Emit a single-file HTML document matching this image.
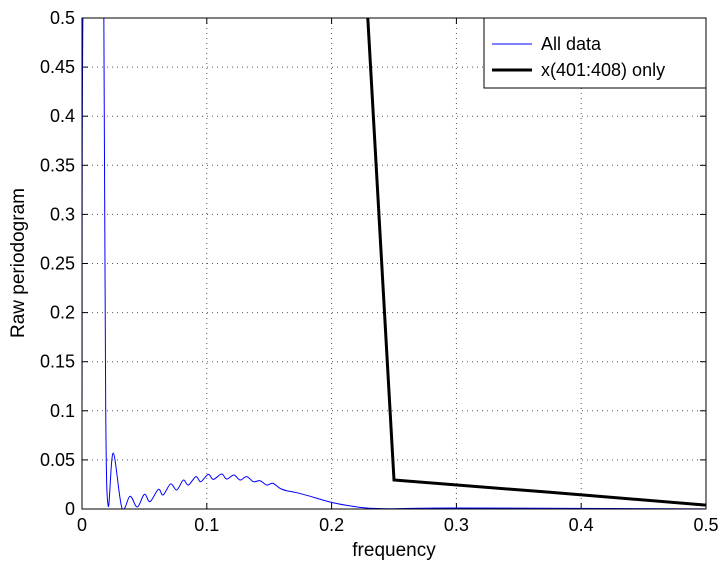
<!DOCTYPE html>
<html><head><meta charset="utf-8"><style>
body{margin:0;background:#fff;}
svg{display:block;font-family:"Liberation Sans",Arial,sans-serif;}
</style></head><body>
<svg id="chart" width="724" height="565"></svg>
<script>
const xTicks=[0,0.1,0.2,0.3,0.4,0.5];
const yTicks=[0,0.05,0.1,0.15,0.2,0.25,0.3,0.35,0.4,0.45,0.5];
const allFreq=[0,0.002,0.016,0.0175,0.019,0.021,0.025,0.032,0.0385,0.0443,0.050,0.0545,0.0612,0.065,0.071,0.0759,0.0812,0.0852,0.0913,0.0951,0.1012,0.1052,0.1119,0.1159,0.1218,0.1266,0.132,0.1373,0.1426,0.148,0.1528,0.1587,0.164,0.172,0.1854,0.1987,0.2121,0.228,0.25,0.3,0.5];
const allVal=[0.1,0.6,0.6,0.5,0.1,0.003,0.057,0.001,0.013,0.002,0.015,0.0075,0.020,0.0143,0.0255,0.0193,0.0295,0.0244,0.033,0.0278,0.0353,0.0302,0.0356,0.0305,0.0346,0.0295,0.033,0.0278,0.0288,0.0244,0.0262,0.021,0.0186,0.0166,0.012,0.0071,0.0037,0.001,0.0003,0.001,0.0001];
const subFreq=[0.125,0.25,0.375,0.5];
const subVal=[2.83,0.0295,0.017,0.004];
const L=82,R=706,T=18,B=509;
const X=f=>L+(f-0)/(0.5)*(R-L);
const Y=v=>B-(v/0.5)*(B-T);
const NS="http://www.w3.org/2000/svg";
const svg=document.getElementById('chart');
function mk(tag,attrs,parent){const e=document.createElementNS(NS,tag);for(const k in attrs)e.setAttribute(k,attrs[k]);(parent||svg).appendChild(e);return e;}
function smooth(pts){
 let d='M'+pts[0][0]+','+pts[0][1];
 for(let i=0;i<pts.length-1;i++){
  const p0=pts[Math.max(0,i-1)],p1=pts[i],p2=pts[i+1],p3=pts[Math.min(pts.length-1,i+2)];
  const c1x=p1[0]+(p2[0]-p0[0])/6,c1y=p1[1]+(p2[1]-p0[1])/6;
  const c2x=p2[0]-(p3[0]-p1[0])/6,c2y=p2[1]-(p3[1]-p1[1])/6;
  d+=' C'+c1x+','+c1y+' '+c2x+','+c2y+' '+p2[0]+','+p2[1];
 }
 return d;
}
const defs=mk('defs',{});
const cp=mk('clipPath',{id:'clip'},defs);
mk('rect',{x:L,y:T,width:R-L,height:B-T},cp);
xTicks.forEach((t,i)=>{
 const g=mk('line',{x1:X(t),x2:X(t),y1:T,y2:B,stroke:'#555','stroke-width':1,'stroke-dasharray':'1,4'});
 
 
 const tk=mk('line',{x1:X(t),x2:X(t),y1:B,y2:B-6,stroke:'#000'});
 
 
 mk('line',{x1:X(t),x2:X(t),y1:T,y2:T+6,stroke:'#000'});
 const tx=mk('text',{x:X(t),y:B+22,'font-size':18,'text-anchor':'middle'});
 tx.textContent=String(t);
 
 
});
yTicks.forEach(t=>{
 const g=mk('line',{x1:L,x2:R,y1:Y(t),y2:Y(t),stroke:'#555','stroke-width':1,'stroke-dasharray':'1,4'});
 
 
 const tk=mk('line',{x1:L,x2:L+6,y1:Y(t),y2:Y(t),stroke:'#000'});
 
 
 mk('line',{x1:R,x2:R-6,y1:Y(t),y2:Y(t),stroke:'#000'});
 const tx=mk('text',{x:L-7,y:Y(t)+6,'font-size':18,'text-anchor':'end'});
 tx.textContent=String(t);
 
 
});
const g2=mk('g',{'clip-path':'url(#clip)'});
const p1=mk('path',{d:smooth(allFreq.map((f,i)=>[X(f),Y(allVal[i])])),fill:'none',stroke:'#0000ff','stroke-width':1},g2);


const p2=mk('polyline',{points:subFreq.map((f,i)=>X(f)+','+Y(subVal[i])).join(' '),fill:'none',stroke:'#000','stroke-width':3},g2);


const box=mk('rect',{x:L,y:T,width:R-L,height:B-T,fill:'none',stroke:'#000'});


const xl=mk('text',{x:394,y:556,'font-size':19,'text-anchor':'middle'});
xl.textContent='frequency';


const yl=mk('text',{x:0,y:0,'font-size':19,'text-anchor':'middle',transform:'translate(24,263) rotate(-90)'});
yl.textContent='Raw periodogram';


const lg=mk('g',{});


mk('rect',{x:484,y:18,width:222,height:70,fill:'#fff',stroke:'#000'},lg);
const e1=mk('line',{x1:492,x2:532,y1:44,y2:44,stroke:'#0000ff','stroke-width':1},lg);


const t1=mk('text',{x:541,y:50,'font-size':18},lg);t1.textContent='All data';
const e2=mk('line',{x1:492,x2:532,y1:70,y2:70,stroke:'#000','stroke-width':3},lg);


const t2=mk('text',{x:541,y:76,'font-size':18},lg);t2.textContent='x(401:408) only';
</script>
</body></html>
